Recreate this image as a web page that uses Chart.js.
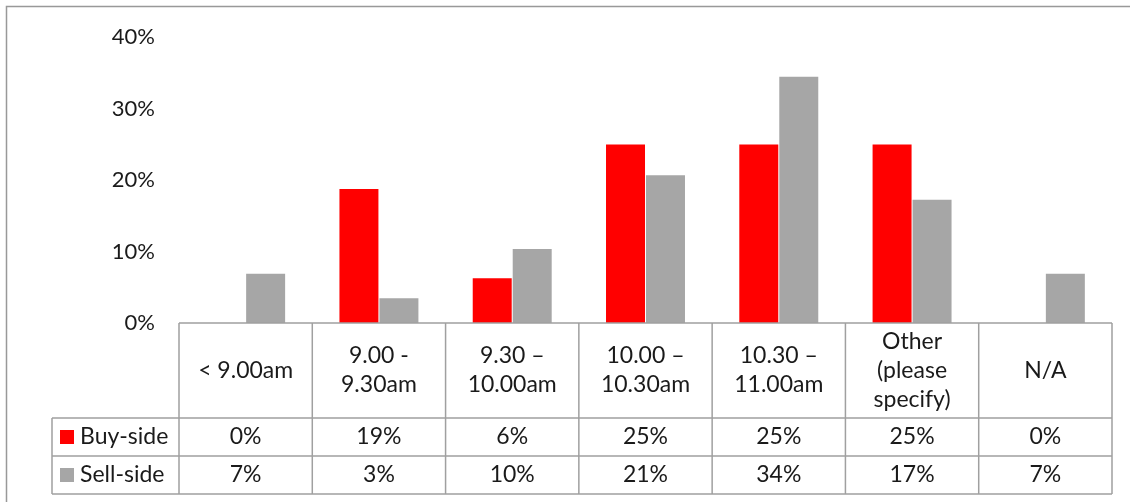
<!DOCTYPE html>
<html>
<head>
<meta charset="utf-8">
<script src="https://cdn.jsdelivr.net/npm/chart.js@4"></script>
<style>
  html, body { margin: 0; padding: 0; background: #fff; }
  #wrap { width: 1130px; height: 502px; position: relative; }
</style>
</head>
<body>
<div id="wrap"><canvas id="horario"></canvas></div>
<script>
// categorias (linhas do cabeçalho da tabela)
var categorias = [
  ['< 9.00am'],
  ['9.00 -', '9.30am'],
  ['9.30 \u2013', '10.00am'],
  ['10.00 \u2013', '10.30am'],
  ['10.30 \u2013', '11.00am'],
  ['Other', '(please', 'specify)'],
  ['N/A']
];
var buySide = [0, 18.75, 6.25, 25, 25, 25, 0];
var sellSide = [6.9, 3.45, 10.34, 20.69, 34.48, 17.24, 6.9];
var ticksY = [0, 10, 20, 30, 40];

var vermelho = '#ff0000';
var cinza = '#a6a6a6';
var linha = '#a0a0a0';
var fonte = 'Lato, "Noto Sans", sans-serif';

// desenha a moldura e a tabela de dados abaixo do grafico
var tabela = {
  id: 'tabela',
  afterDraw: function(chart) {
    var ctx = chart.ctx;
    var x = chart.scales.x;
    var area = chart.chartArea;
    var n = categorias.length;
    var larg = (area.right - area.left) / n;
    var y0 = area.bottom;
    var y1 = y0 + 95, y2 = y1 + 38, y3 = y2 + 38;
    var esq = 52;

    ctx.save();
    // moldura externa
    ctx.strokeStyle = '#999';
    ctx.lineWidth = 1.5;
    ctx.beginPath();
    ctx.moveTo(6.5, 502);
    ctx.lineTo(6.5, 6.5);
    ctx.lineTo(1130, 6.5);
    ctx.stroke();

    ctx.strokeStyle = linha;
    ctx.lineWidth = 1.5;
    ctx.beginPath();
    ctx.moveTo(area.left, y0); ctx.lineTo(area.right, y0);
    ctx.moveTo(esq, y1); ctx.lineTo(area.right, y1);
    ctx.moveTo(esq, y2); ctx.lineTo(area.right, y2);
    ctx.moveTo(esq, y3); ctx.lineTo(area.right, y3);
    ctx.moveTo(esq, y1); ctx.lineTo(esq, y3);
    for (var i = 0; i <= n; i++) {
      var xx = area.left + i * larg;
      ctx.moveTo(xx, y0); ctx.lineTo(xx, y3);
    }
    ctx.stroke();

    ctx.fillStyle = '#1a1a1a';
    ctx.font = '23px ' + fonte;
    ctx.textAlign = 'center';
    ctx.textBaseline = 'middle';
    for (var i = 0; i < n; i++) {
      var cx = x.getPixelForValue(i);
      var linhas = categorias[i];
      var alt = 29;
      var topo = (y0 + y1) / 2 - (linhas.length - 1) * alt / 2;
      for (var j = 0; j < linhas.length; j++) {
        ctx.fillText(linhas[j], cx, topo + j * alt);
      }
      ctx.fillText(Math.round(buySide[i]) + '%', cx, (y1 + y2) / 2);
      ctx.fillText(Math.round(sellSide[i]) + '%', cx, (y2 + y3) / 2);
    }

    // legenda das series
    var series = [['Buy-side', vermelho, (y1 + y2) / 2], ['Sell-side', cinza, (y2 + y3) / 2]];
    ctx.textAlign = 'left';
    series.forEach(function(s) {
      ctx.fillStyle = s[1];
      ctx.fillRect(60, s[2] - 7, 14, 14);
      ctx.fillStyle = '#1a1a1a';
      ctx.fillText(s[0], 80, s[2]);
    });
    ctx.restore();
  }
};

var ctx = document.getElementById('horario');
var chart = new Chart(ctx, {
  type: 'bar',
  data: {
    labels: categorias,
    datasets: [{
      label: 'Buy-side',
      data: buySide,
      backgroundColor: vermelho,
      categoryPercentage: 0.6,
      barPercentage: 0.975
    }, {
      label: 'Sell-side',
      data: sellSide,
      backgroundColor: cinza,
      categoryPercentage: 0.6,
      barPercentage: 0.975
    }]
  },
  options: {
    responsive: true,
    maintainAspectRatio: false,
    animation: false,
    layout: { padding: { top: 34, right: 18, bottom: 179, left: 0 } },
    plugins: { legend: { display: false }, tooltip: { enabled: false } },
    scales: {
      x: { display: false },
      y: {
        min: 0,
        max: 40,
        afterBuildTicks: function(axis) {
          axis.ticks = ticksY.map(function(v) { return { value: v }; });
        },
        afterFit: function(axis) { axis.width = 179; },
        grid: { display: false, drawTicks: false },
        border: { display: false },
        ticks: {
          padding: 24,
          color: '#1a1a1a',
          font: { family: fonte, size: 22 },
          callback: function(v) { return v + '%'; }
        }
      }
    }
  },
  plugins: [tabela]
});
</script>
</body>
</html>
